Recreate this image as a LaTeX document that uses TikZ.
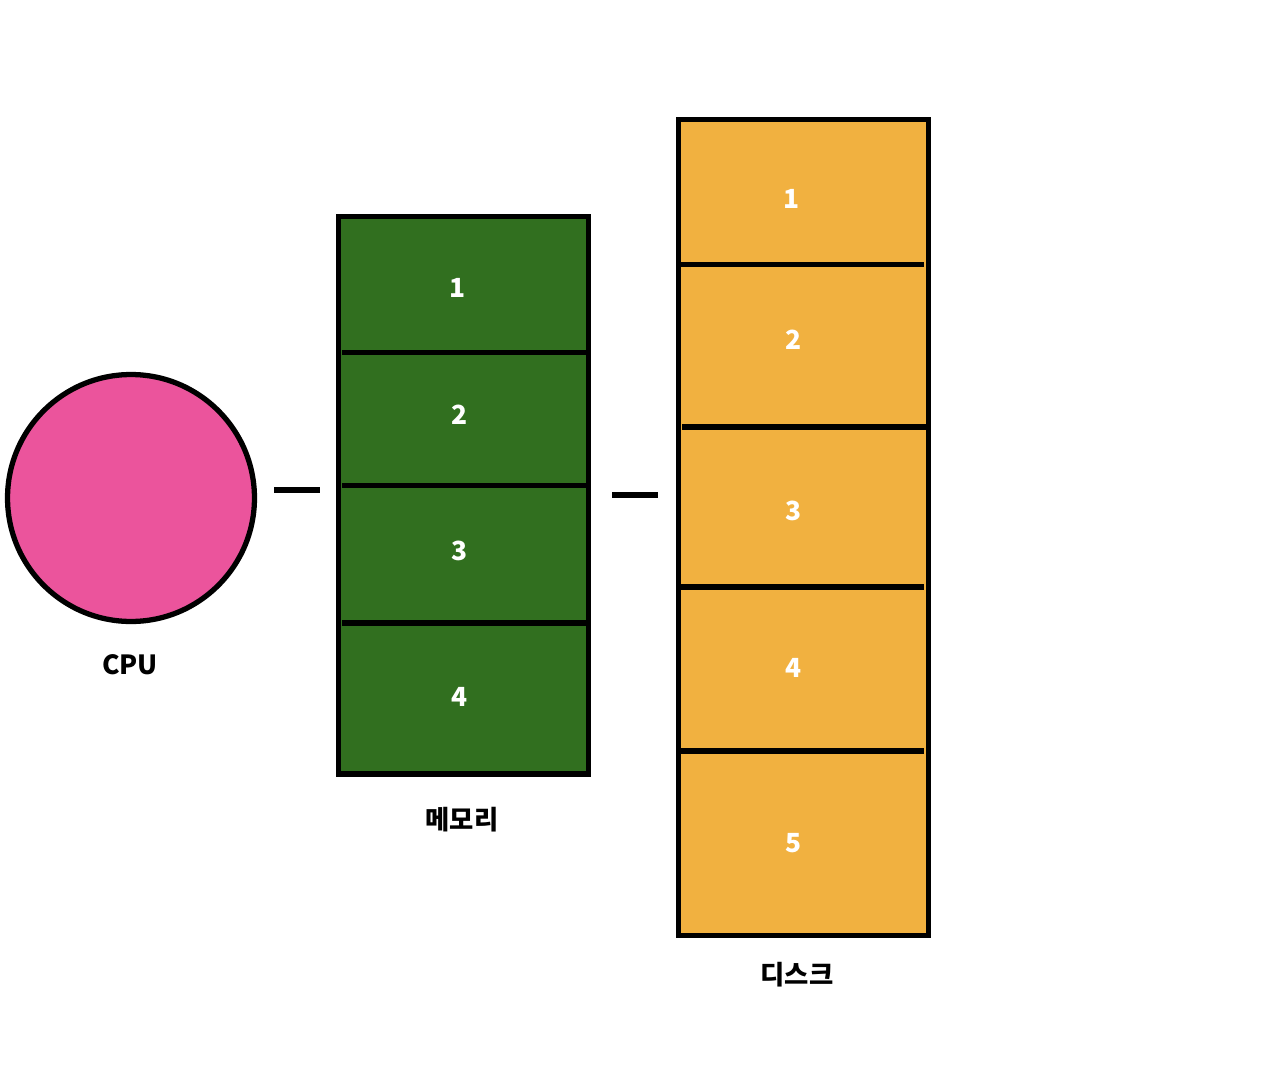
\documentclass[tikz,border=0pt]{standalone}
\usepackage{fontspec}
\setmainfont{Noto Sans CJK KR}
\usepackage{tikz}

\definecolor{cpupink}{HTML}{EB549C}
\definecolor{memgreen}{HTML}{316F1F}
\definecolor{diskorange}{HTML}{F1B140}

\tikzset{
    unit/.style={draw, line width=3pt, minimum width=5cm, inner sep=0pt},
    sep/.style={line width=3pt},
    num/.style={text=white, font=\fontsize{15}{18}\selectfont\bfseries},
    lbl/.style={font=\fontsize{15}{18}\selectfont\bfseries}
}

\begin{document}
\begin{tikzpicture}[x=0.02cm, y=-0.02cm]
    \useasboundingbox (0,0) rectangle (1284,1078);
    \node[circle, draw, line width=3pt, fill=cpupink, minimum size=4.94cm, inner sep=0pt] (cpu) at (131,498) {};
    \node[unit, fill=memgreen, minimum height=11.15cm] (mem) at (463.5,495.25) {};
    \node[unit, fill=diskorange, minimum height=16.32cm] (disk) at (803.5,527.5) {};
    \draw[sep] (342,352.5) -- (586,352.5);
    \draw[sep] (342,485.5) -- (586,485.5);
    \draw[sep] (342,623) -- (586,623);
    \draw[sep] (681,264.5) -- (924,264.5);
    \draw[sep] (682,427) -- (926,427);
    \draw[sep] (681,587) -- (924,587);
    \draw[sep] (681,751) -- (924,751);
    \node[num] (mem1) at (458,288) {1};
    \node[num] (mem2) at (460,415) {2};
    \node[num] (mem3) at (460,551) {3};
    \node[num] (mem4) at (460,697) {4};
    \node[num] (disk1) at (792,199) {1};
    \node[num] (disk2) at (794,340) {2};
    \node[num] (disk3) at (794,511) {3};
    \node[num] (disk4) at (794,668) {4};
    \node[num] (disk5) at (794,843) {5};
    \node[lbl] (cpulabel) at (130,665) {CPU};
    \node[lbl] (memlabel) at (462,820) {메모리};
    \node[lbl] (disklabel) at (797,975) {디스크};
    \coordinate (cm1) at (274,490);
    \coordinate (cm2) at (320,490);
    \coordinate (md1) at (612,495);
    \coordinate (md2) at (658,495);
    \draw[sep] (cm1) -- (cm2);
    \draw[sep] (md1) -- (md2);
\end{tikzpicture}
\end{document}
